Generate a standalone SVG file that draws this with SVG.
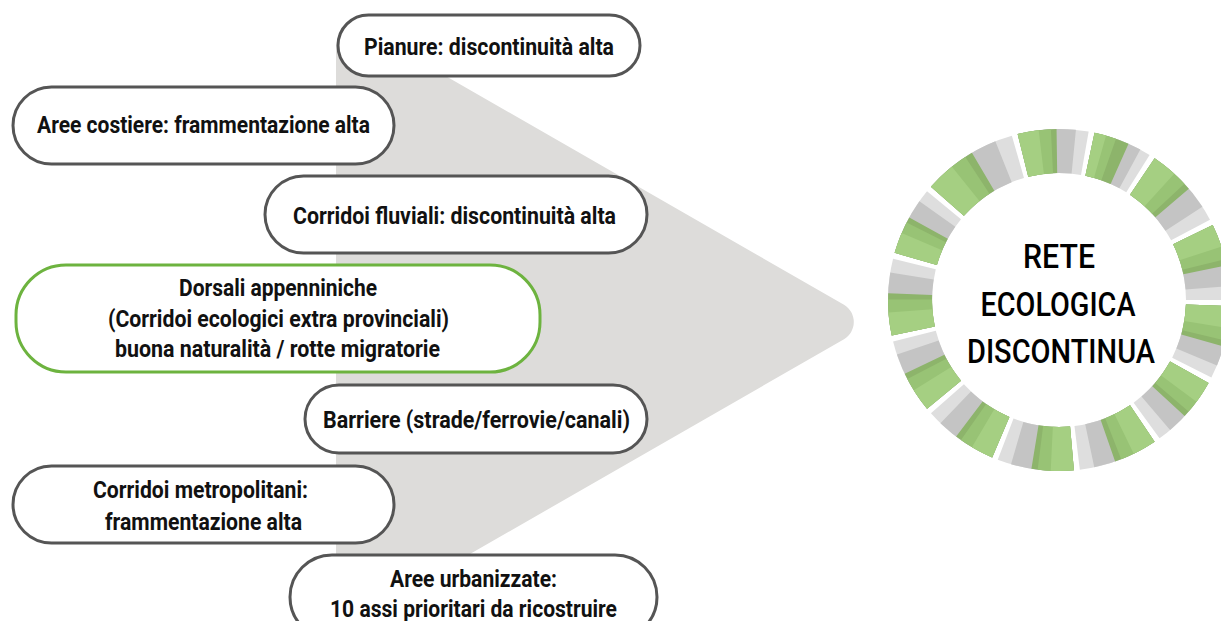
<svg xmlns="http://www.w3.org/2000/svg" width="1221" height="621" viewBox="0 0 1221 621">
<style>
.box{fill:#ffffff;stroke:#555555;stroke-width:3}
.gbox{fill:#ffffff;stroke:#6db33f;stroke-width:3}
.lbl{font-family:Roboto,"Liberation Sans",sans-serif;font-weight:700;font-size:24px;fill:#111111;text-anchor:middle}
.ttl{font-family:Roboto,"Liberation Sans",sans-serif;font-weight:500;font-size:33px;fill:#000000;text-anchor:middle}
.seg{fill:none;stroke-width:44}
.c1{stroke:#dedede}.c2{stroke:#c4c4c4}.c3{stroke:#8db46b}.c4{stroke:#98c375}.c5{stroke:#a5cf82}
</style>
<rect width="1221" height="621" fill="#ffffff"/>
<g id="arrow">
<path d="M336,47.6 A20,20 0 0 1 366,30.2 L844,304.8 A20,20 0 0 1 844,339.2 L366,613.8 A20,20 0 0 1 336,596.4 Z" fill="#dddcda"/>
</g>
<g id="connectors"></g>
<g id="ring">
<g transform="rotate(256 1059 300)"><circle class="seg c1" cx="1059" cy="300" r="149" pathLength="360" stroke-dasharray="24 360"/><circle class="seg c2" cx="1059" cy="300" r="149" pathLength="360" stroke-dasharray="19.7 360"/><circle class="seg c3" cx="1059" cy="300" r="149" pathLength="360" stroke-dasharray="13.2 360"/><circle class="seg c4" cx="1059" cy="300" r="149" pathLength="360" stroke-dasharray="11.3 360"/><circle class="seg c5" cx="1059" cy="300" r="149" pathLength="360" stroke-dasharray="7.2 360"/></g>
<g transform="rotate(-78 1059 300)"><circle class="seg c1" cx="1059" cy="300" r="149" pathLength="360" stroke-dasharray="20 360"/><circle class="seg c2" cx="1059" cy="300" r="149" pathLength="360" stroke-dasharray="16.4 360"/><circle class="seg c3" cx="1059" cy="300" r="149" pathLength="360" stroke-dasharray="12 360"/><circle class="seg c4" cx="1059" cy="300" r="149" pathLength="360" stroke-dasharray="7.5 360"/><circle class="seg c5" cx="1059" cy="300" r="149" pathLength="360" stroke-dasharray="4 360"/></g>
<g transform="rotate(-56 1059 300)"><circle class="seg c1" cx="1059" cy="300" r="149" pathLength="360" stroke-dasharray="28 360"/><circle class="seg c2" cx="1059" cy="300" r="149" pathLength="360" stroke-dasharray="23 360"/><circle class="seg c3" cx="1059" cy="300" r="149" pathLength="360" stroke-dasharray="15.4 360"/><circle class="seg c4" cx="1059" cy="300" r="149" pathLength="360" stroke-dasharray="13.2 360"/><circle class="seg c5" cx="1059" cy="300" r="149" pathLength="360" stroke-dasharray="8.4 360"/></g>
<g transform="rotate(-26 1059 300)"><circle class="seg c1" cx="1059" cy="300" r="149" pathLength="360" stroke-dasharray="26 360"/><circle class="seg c2" cx="1059" cy="300" r="149" pathLength="360" stroke-dasharray="21.3 360"/><circle class="seg c3" cx="1059" cy="300" r="149" pathLength="360" stroke-dasharray="14.3 360"/><circle class="seg c4" cx="1059" cy="300" r="149" pathLength="360" stroke-dasharray="12.2 360"/><circle class="seg c5" cx="1059" cy="300" r="149" pathLength="360" stroke-dasharray="7.8 360"/></g>
<g transform="rotate(2 1059 300)"><circle class="seg c1" cx="1059" cy="300" r="149" pathLength="360" stroke-dasharray="25 360"/><circle class="seg c2" cx="1059" cy="300" r="149" pathLength="360" stroke-dasharray="20.5 360"/><circle class="seg c3" cx="1059" cy="300" r="149" pathLength="360" stroke-dasharray="13.75 360"/><circle class="seg c4" cx="1059" cy="300" r="149" pathLength="360" stroke-dasharray="11.75 360"/><circle class="seg c5" cx="1059" cy="300" r="149" pathLength="360" stroke-dasharray="7.5 360"/></g>
<g transform="rotate(29 1059 300)"><circle class="seg c1" cx="1059" cy="300" r="149" pathLength="360" stroke-dasharray="25 360"/><circle class="seg c2" cx="1059" cy="300" r="149" pathLength="360" stroke-dasharray="20.5 360"/><circle class="seg c3" cx="1059" cy="300" r="149" pathLength="360" stroke-dasharray="13.75 360"/><circle class="seg c4" cx="1059" cy="300" r="149" pathLength="360" stroke-dasharray="11.75 360"/><circle class="seg c5" cx="1059" cy="300" r="149" pathLength="360" stroke-dasharray="7.5 360"/></g>
<g transform="rotate(56 1059 300)"><circle class="seg c1" cx="1059" cy="300" r="149" pathLength="360" stroke-dasharray="27 360"/><circle class="seg c2" cx="1059" cy="300" r="149" pathLength="360" stroke-dasharray="22.1 360"/><circle class="seg c3" cx="1059" cy="300" r="149" pathLength="360" stroke-dasharray="14.85 360"/><circle class="seg c4" cx="1059" cy="300" r="149" pathLength="360" stroke-dasharray="12.7 360"/><circle class="seg c5" cx="1059" cy="300" r="149" pathLength="360" stroke-dasharray="8.1 360"/></g>
<g transform="rotate(85 1059 300)"><circle class="seg c1" cx="1059" cy="300" r="149" pathLength="360" stroke-dasharray="26 360"/><circle class="seg c2" cx="1059" cy="300" r="149" pathLength="360" stroke-dasharray="21.3 360"/><circle class="seg c3" cx="1059" cy="300" r="149" pathLength="360" stroke-dasharray="14.3 360"/><circle class="seg c4" cx="1059" cy="300" r="149" pathLength="360" stroke-dasharray="12.2 360"/><circle class="seg c5" cx="1059" cy="300" r="149" pathLength="360" stroke-dasharray="7.8 360"/></g>
<g transform="rotate(113 1059 300)"><circle class="seg c1" cx="1059" cy="300" r="149" pathLength="360" stroke-dasharray="25.5 360"/><circle class="seg c2" cx="1059" cy="300" r="149" pathLength="360" stroke-dasharray="20.9 360"/><circle class="seg c3" cx="1059" cy="300" r="149" pathLength="360" stroke-dasharray="14 360"/><circle class="seg c4" cx="1059" cy="300" r="149" pathLength="360" stroke-dasharray="12 360"/><circle class="seg c5" cx="1059" cy="300" r="149" pathLength="360" stroke-dasharray="7.65 360"/></g>
<g transform="rotate(140.5 1059 300)"><circle class="seg c1" cx="1059" cy="300" r="149" pathLength="360" stroke-dasharray="25.5 360"/><circle class="seg c2" cx="1059" cy="300" r="149" pathLength="360" stroke-dasharray="20.9 360"/><circle class="seg c3" cx="1059" cy="300" r="149" pathLength="360" stroke-dasharray="14 360"/><circle class="seg c4" cx="1059" cy="300" r="149" pathLength="360" stroke-dasharray="12 360"/><circle class="seg c5" cx="1059" cy="300" r="149" pathLength="360" stroke-dasharray="7.65 360"/></g>
<g transform="rotate(168 1059 300)"><circle class="seg c1" cx="1059" cy="300" r="149" pathLength="360" stroke-dasharray="26 360"/><circle class="seg c2" cx="1059" cy="300" r="149" pathLength="360" stroke-dasharray="21.3 360"/><circle class="seg c3" cx="1059" cy="300" r="149" pathLength="360" stroke-dasharray="14.3 360"/><circle class="seg c4" cx="1059" cy="300" r="149" pathLength="360" stroke-dasharray="12.2 360"/><circle class="seg c5" cx="1059" cy="300" r="149" pathLength="360" stroke-dasharray="7.8 360"/></g>
<g transform="rotate(196 1059 300)"><circle class="seg c1" cx="1059" cy="300" r="149" pathLength="360" stroke-dasharray="23.5 360"/><circle class="seg c2" cx="1059" cy="300" r="149" pathLength="360" stroke-dasharray="19.3 360"/><circle class="seg c3" cx="1059" cy="300" r="149" pathLength="360" stroke-dasharray="12.9 360"/><circle class="seg c4" cx="1059" cy="300" r="149" pathLength="360" stroke-dasharray="11 360"/><circle class="seg c5" cx="1059" cy="300" r="149" pathLength="360" stroke-dasharray="7.05 360"/></g>
<g transform="rotate(221.5 1059 300)"><circle class="seg c1" cx="1059" cy="300" r="149" pathLength="360" stroke-dasharray="32.5 360"/><circle class="seg c2" cx="1059" cy="300" r="149" pathLength="360" stroke-dasharray="26.65 360"/><circle class="seg c3" cx="1059" cy="300" r="149" pathLength="360" stroke-dasharray="17.9 360"/><circle class="seg c4" cx="1059" cy="300" r="149" pathLength="360" stroke-dasharray="15.3 360"/><circle class="seg c5" cx="1059" cy="300" r="149" pathLength="360" stroke-dasharray="9.75 360"/></g>
<text class="ttl" x="1059" y="268" textLength="72" lengthAdjust="spacingAndGlyphs">RETE</text>
<text class="ttl" x="1058" y="316" textLength="155" lengthAdjust="spacingAndGlyphs">ECOLOGICA</text>
<text class="ttl" x="1061" y="363" textLength="188" lengthAdjust="spacingAndGlyphs">DISCONTINUA</text>
</g>
<g id="n-pianure">
<rect class="box" x="338" y="15" width="302" height="61" rx="30.5"/>
<text class="lbl" x="489" y="55" textLength="250" lengthAdjust="spacingAndGlyphs">Pianure: discontinuità alta</text>
</g>
<g id="n-costiere">
<rect class="box" x="13" y="87" width="381" height="77" rx="38.5"/>
<text class="lbl" x="203.5" y="133" textLength="333" lengthAdjust="spacingAndGlyphs">Aree costiere: frammentazione alta</text>
</g>
<g id="n-fluviali">
<rect class="box" x="265" y="176" width="382" height="77" rx="38.5"/>
<text class="lbl" x="454.5" y="224" textLength="323" lengthAdjust="spacingAndGlyphs">Corridoi fluviali: discontinuità alta</text>
</g>
<g id="n-dorsali">
<rect class="gbox" x="16" y="265" width="524" height="107" rx="50"/>
<text class="lbl" x="278" y="296" textLength="198" lengthAdjust="spacingAndGlyphs">Dorsali appenniniche</text>
<text class="lbl" x="278.5" y="327" textLength="341" lengthAdjust="spacingAndGlyphs">(Corridoi ecologici extra provinciali)</text>
<text class="lbl" x="277.5" y="357" textLength="325" lengthAdjust="spacingAndGlyphs">buona naturalità / rotte migratorie</text>
</g>
<g id="n-barriere">
<rect class="box" x="305" y="385" width="342" height="68" rx="34"/>
<text class="lbl" x="476.5" y="428" textLength="307" lengthAdjust="spacingAndGlyphs">Barriere (strade/ferrovie/canali)</text>
</g>
<g id="n-metropolitani">
<rect class="box" x="13" y="466" width="381" height="77" rx="38.5"/>
<text class="lbl" x="200.5" y="498" textLength="215" lengthAdjust="spacingAndGlyphs">Corridoi metropolitani:</text>
<text class="lbl" x="203.5" y="530" textLength="197" lengthAdjust="spacingAndGlyphs">frammentazione alta</text>
</g>
<g id="n-urbanizzate">
<rect class="box" x="290" y="555" width="367" height="84" rx="42"/>
<text class="lbl" x="473.5" y="587" textLength="167" lengthAdjust="spacingAndGlyphs">Aree urbanizzate:</text>
<text class="lbl" x="473.5" y="617" textLength="287" lengthAdjust="spacingAndGlyphs">10 assi prioritari da ricostruire</text>
</g>
</svg>
